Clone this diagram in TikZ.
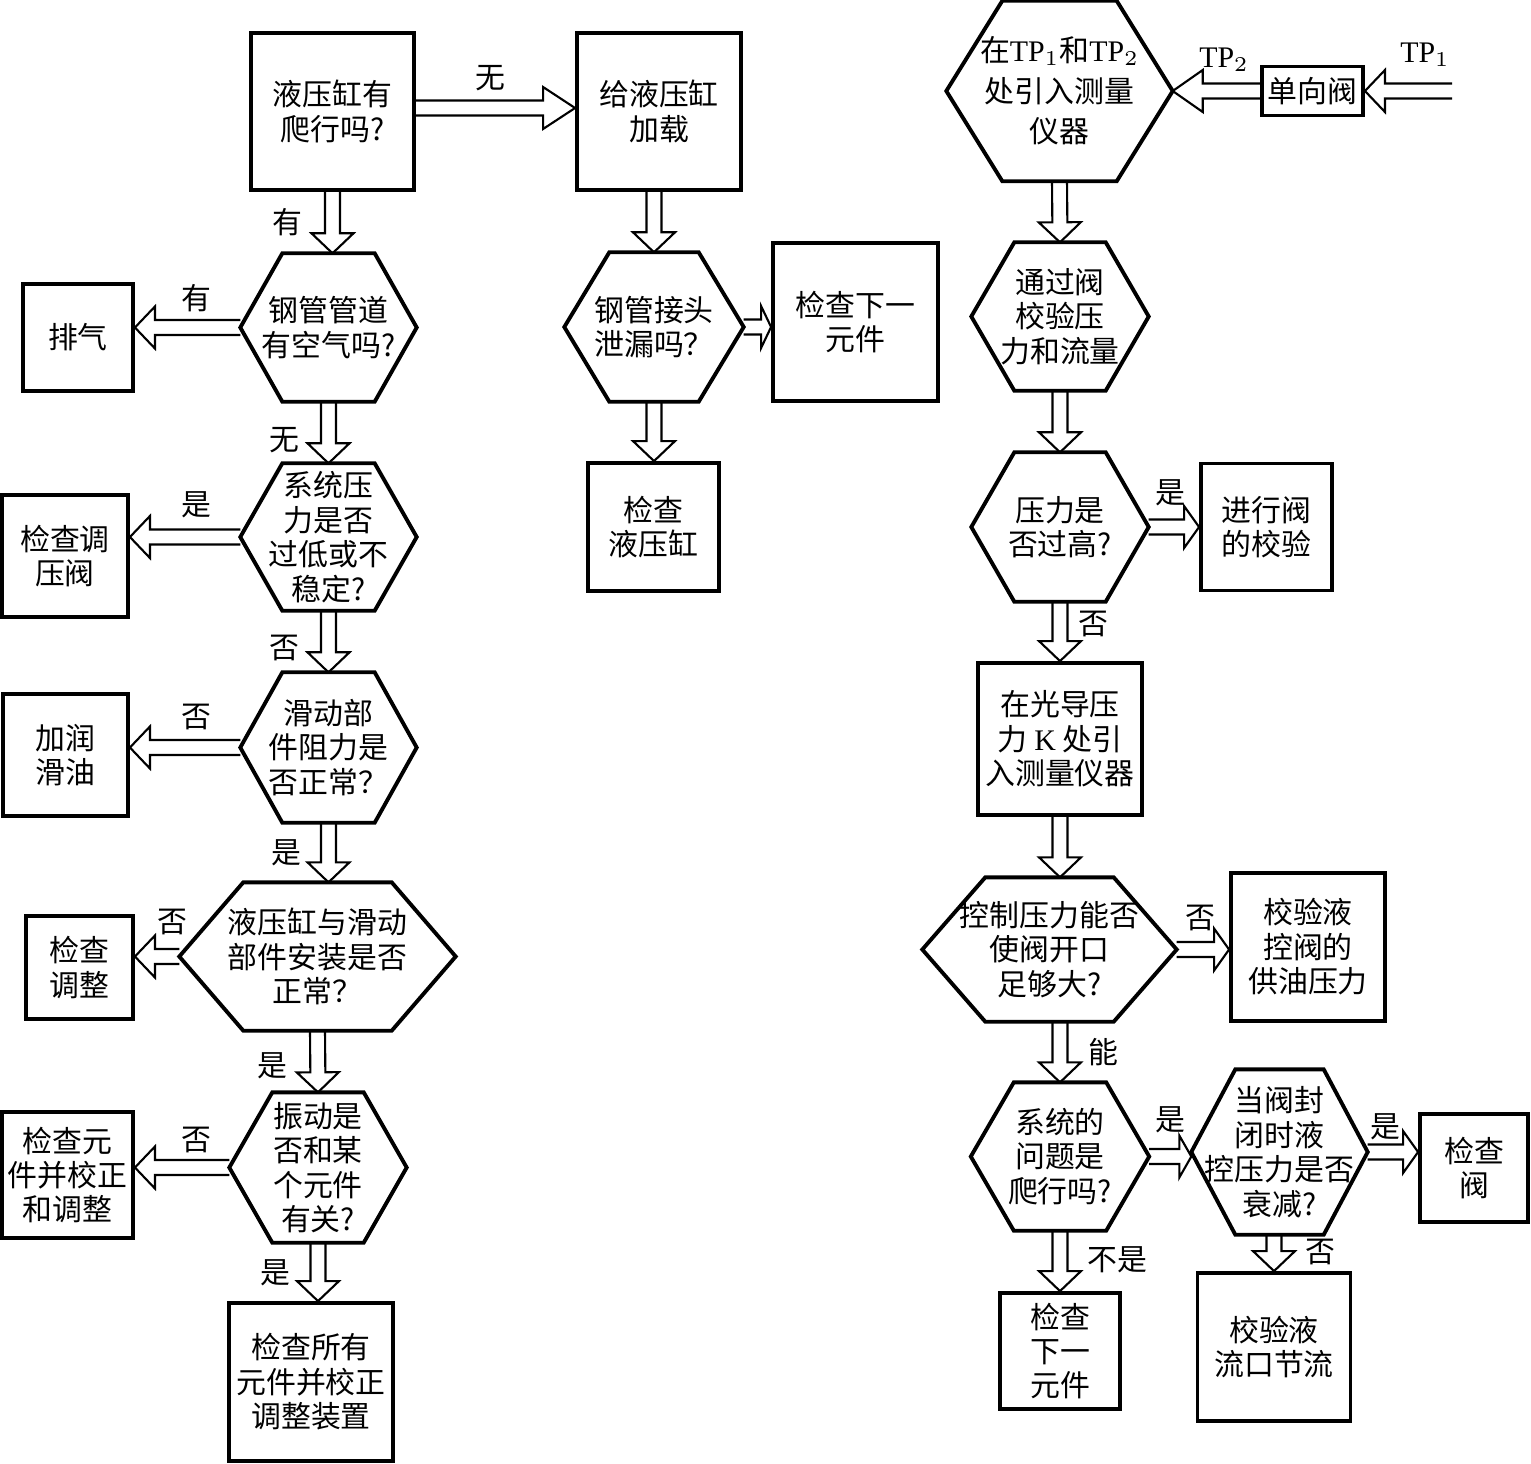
\documentclass[tikz,border=0pt]{standalone}
\usepackage{fontspec}
\setmainfont{Liberation Serif}
\newfontfamily\cjk{Noto Sans CJK SC}
\usetikzlibrary{calc}

% hollow block arrow from #2 to #3, #1 = head length
\newcommand{\hollowarrow}[3][0.2cm]{%
  \coordinate (ha) at (#2);
  \coordinate (hb) at (#3);
  \coordinate (hn) at ($(hb)!#1!(ha)$);
  \draw[hollow] ($(ha)!0.075cm!90:(hb)$) -- ($(hn)!0.075cm!90:(hb)$) -- ($(hn)!0.21cm!90:(hb)$) -- (hb)
    -- ($(hn)!0.21cm!-90:(hb)$) -- ($(hn)!0.075cm!-90:(hb)$) -- ($(ha)!0.075cm!-90:(hb)$);
}

\begin{document}
\begin{tikzpicture}[
    x=0.01cm, y=-0.01cm,
    every node/.style={font=\cjk\fontsize{8.5pt}{9.8pt}\selectfont},
    box/.style={draw, line width=1.1pt, align=center, inner sep=0pt},
    hexnode/.style={align=center, inner sep=0pt},
    wh/.style 2 args={minimum width=#1*0.01cm, minimum height=#2*0.01cm},
    hexline/.style={line width=1.1pt, line join=miter},
    hollow/.style={line width=0.6pt, line join=miter},
    lbl/.style={inner sep=1pt}
  ]
    \useasboundingbox (0,0) rectangle (1531,1463);

    % left column
    \node[box, wh={163}{157}] (crawl) at (332.5,111.5) {液压缸有\\爬行吗?};
    \node[box, wh={164}{157}] (load) at (659,111.5) {给液压缸\\加载};
    \node[hexnode, wh={175}{147}] (air) at (328.5,327.5) {钢管管道\\有空气吗?};
    \node[box, wh={110}{107}] (vent) at (78,337.5) {排气};
    \node[hexnode, wh={175}{146}] (press) at (328.5,537) {系统压\\力是否\\过低或不\\稳定?};
    \node[box, wh={126}{122}] (regval) at (65,556) {检查调\\压阀};
    \node[hexnode, wh={175}{149}] (slide) at (328.5,747.5) {滑动部\\件阻力是\\否正常？};
    \node[box, wh={125}{122}] (lube) at (65.5,755) {加润\\滑油};
    \node[hexnode, wh={275}{147}] (mount) at (317.5,956.5) {液压缸与滑动\\部件安装是否\\正常？};
    \node[box, wh={107}{103}] (adjust) at (79.5,967.5) {检查\\调整};
    \node[hexnode, wh={176}{149}] (vib) at (318,1167.5) {振动是\\否和某\\个元件\\有关?};
    \node[box, wh={131}{126}] (comp) at (67.5,1175) {检查元\\件并校正\\和调整};
    \node[box, wh={164}{158}] (allchk) at (311,1382) {检查所有\\元件并校正\\调整装置};

    % middle column
    \node[hexnode, wh={178}{148}] (leak) at (654,327) {钢管接头\\泄漏吗？};
    \node[box, wh={165}{158}] (next1) at (855.5,322) {检查下一\\元件};
    \node[box, wh={131}{128}] (cylchk) at (653.5,527) {检查\\液压缸};

    % right column
    \node[hexnode, wh={225}{179}, font=\cjk\fontsize{8.5pt}{11.5pt}\selectfont] (tp) at (1059.5,91)
      {在{\rmfamily TP}$_1$和{\rmfamily TP}$_2$\\处引入测量\\仪器};
    \node[box, wh={101}{49}] (chkval) at (1312.5,91) {单向阀};
    \coordinate (tpin) at (1452,91);
    \node[hexnode, wh={176}{147}] (verify) at (1060,316.5) {通过阀\\校验压\\力和流量};
    \node[hexnode, wh={176}{148}] (high) at (1060,527) {压力是\\否过高?};
    \node[box, wh={131}{127}] (valchk) at (1266.5,527) {进行阀\\的校验};
    \node[box, wh={164}{152}] (pilot) at (1060,739) {在光导压\\力 {\rmfamily K} 处引\\入测量仪器};
    \node[hexnode, wh={253}{143}] (ctrl) at (1049.5,949.5) {控制压力能否\\使阀开口\\足够大?};
    \node[box, wh={154}{148}] (supply) at (1308,947) {校验液\\控阀的\\供油压力};
    \node[hexnode, wh={177}{147}] (crawltwo) at (1060,1156.5) {系统的\\问题是\\爬行吗?};
    \node[hexnode, wh={175}{164}] (decay) at (1279.5,1152) {当阀封\\闭时液\\控压力是否\\衰减?};
    \node[box, wh={108}{108}] (chkvtwo) at (1474,1168) {检查\\阀};
    \node[box, wh={120}{116}] (nexttwo) at (1060,1351) {检查\\下一\\元件};
    \node[box, wh={153}{148}] (throttle) at (1274,1347) {校验液\\流口节流};

    % hexagon outlines
    \foreach \n/\d in {air/42, press/42, slide/42, mount/64, vib/43, leak/45,
                       tp/56, verify/43, high/43, ctrl/63, crawltwo/43, decay/44}
      \draw[hexline] (\n.west) -- ($(\n.north west)+(\d,0)$) -- ($(\n.north east)-(\d,0)$)
        -- (\n.east) -- ($(\n.south east)-(\d,0)$) -- ($(\n.south west)+(\d,0)$) -- cycle;

    % arrows
    \hollowarrow[0.32cm]{crawl.east |- 0,108}{load.west |- 0,108}
    \hollowarrow{crawl.south}{crawl.south |- air.north}
    \hollowarrow{air.west}{vent.east |- air.west}
    \hollowarrow{air.south}{press.north}
    \hollowarrow{press.west}{regval.east |- press.west}
    \hollowarrow{press.south}{slide.north}
    \hollowarrow{slide.west}{lube.east |- slide.west}
    \hollowarrow{slide.south}{slide.south |- mount.north}
    \hollowarrow{mount.west}{adjust.east |- mount.west}
    \hollowarrow{mount.south}{vib.north}
    \hollowarrow{vib.west}{comp.east |- vib.west}
    \hollowarrow{vib.south}{vib.south |- allchk.north}

    \hollowarrow{leak.north |- load.south}{leak.north}
    \hollowarrow[0.1cm]{leak.east}{next1.west |- leak.east}
    \hollowarrow{leak.south}{leak.south |- cylchk.north}

    \hollowarrow{tpin}{chkval.east}
    \hollowarrow[0.3cm]{chkval.west}{tp.east}
    \hollowarrow{tp.south}{verify.north}
    \hollowarrow{verify.south}{high.north}
    \hollowarrow[0.15cm]{high.east}{valchk.west |- high.east}
    \hollowarrow{high.south}{pilot.north}
    \hollowarrow{pilot.south}{pilot.south |- ctrl.north}
    \hollowarrow[0.15cm]{ctrl.east}{supply.west |- ctrl.east}
    \hollowarrow{crawltwo.north |- ctrl.south}{crawltwo.north}
    \hollowarrow[0.12cm]{crawltwo.east}{decay.west |- crawltwo.east}
    \hollowarrow[0.15cm]{decay.east}{chkvtwo.west |- decay.east}
    \hollowarrow{crawltwo.south}{nexttwo.north}
    \hollowarrow{throttle.north |- decay.south}{throttle.north}

    % labels
    \node[lbl] (l1) at (490,78) {无};
    \node[lbl] (l2) at (287,222) {有};
    \node[lbl] (l3) at (196,298) {有};
    \node[lbl] (l4) at (284,440) {无};
    \node[lbl] (l5) at (196,505) {是};
    \node[lbl] (l6) at (284,648) {否};
    \node[lbl] (l7) at (196,717) {否};
    \node[lbl] (l8) at (286,853) {是};
    \node[lbl] (l9) at (172,922) {否};
    \node[lbl] (l10) at (272,1066) {是};
    \node[lbl] (l11) at (196,1140) {否};
    \node[lbl] (l12) at (275,1273) {是};
    \node[lbl] (r1) at (1170,493) {是};
    \node[lbl] (r2) at (1093,624) {否};
    \node[lbl] (r3) at (1200,918) {否};
    \node[lbl] (r4) at (1103,1052) {能};
    \node[lbl] (r5) at (1170,1120) {是};
    \node[lbl] (r6) at (1385,1127) {是};
    \node[lbl] (r7) at (1117,1260) {不是};
    \node[lbl] (r8) at (1320,1252) {否};
    \node[lbl] (r9) at (1224,60) {{\rmfamily TP}$_2$};
    \node[lbl] (r10) at (1425,55) {{\rmfamily TP}$_1$};
  \end{tikzpicture}
\end{document}
